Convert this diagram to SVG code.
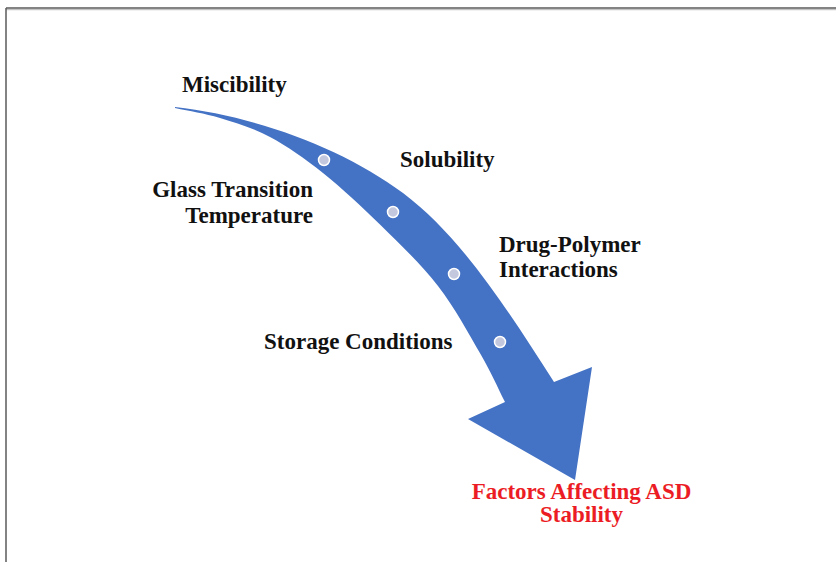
<svg xmlns="http://www.w3.org/2000/svg" width="836" height="562" viewBox="0 0 836 562">
  <style>
    .lbl { font-family: "Liberation Serif", "Times New Roman", serif; font-weight: bold; font-size: 23px; fill: #111111; }
    .goal { font-family: "Liberation Serif", "Times New Roman", serif; font-weight: bold; font-size: 23px; fill: #ec1c24; }
    .dot { fill: #c3c8de; stroke: #ffffff; stroke-width: 1.5; }
  </style>
  <rect x="0" y="0" width="836" height="562" fill="#ffffff"/>

  <!-- page frame -->
  <g id="frame" fill="none">
    <line x1="6" y1="8" x2="836" y2="8" stroke="#5a5a5a" stroke-width="1.5"/>
    <line x1="6" y1="9.7" x2="836" y2="9.7" stroke="#b5b5b5" stroke-width="1"/>
    <line x1="6" y1="8" x2="6" y2="562" stroke="#5a5a5a" stroke-width="1.5"/>
  </g>

  <!-- curved arrow with step markers -->
  <g id="arrow">
    <path fill="#4472c4" d="M175,107
      C255,116 343,148 403,193
      C460,236 504,304 554,382
      L592,367 L575,480 L468,419 L505,402
      C496.9,386 491.7,373.3 480.5,354
      C469.3,334.7 454.6,307.4 438,286
      C421.4,264.6 400.2,244.3 381,225.5
      C361.8,206.7 341.5,187.75 323,173
      C304.5,158.25 287.2,146.2 270,137
      C252.8,127.8 235.8,122.8 220,118
      C204.2,113.2 190,111.3 175,108 Z"/>
    <circle class="dot" cx="324" cy="160" r="5.5"/>
    <circle class="dot" cx="393" cy="212" r="5.5"/>
    <circle class="dot" cx="454" cy="274" r="5.5"/>
    <circle class="dot" cx="500" cy="342" r="5.5"/>
  </g>

  <g id="miscibility">
    <text class="lbl" x="182" y="92">Miscibility</text>
  </g>
  <g id="glass-transition">
    <text class="lbl" text-anchor="end" x="313" y="197">Glass Transition</text>
    <text class="lbl" text-anchor="end" x="313" y="223">Temperature</text>
  </g>
  <g id="solubility">
    <text class="lbl" x="400" y="167">Solubility</text>
  </g>
  <g id="drug-polymer">
    <text class="lbl" x="499" y="252">Drug-Polymer</text>
    <text class="lbl" x="499" y="277">Interactions</text>
  </g>
  <g id="storage">
    <text class="lbl" x="264" y="349">Storage Conditions</text>
  </g>
  <g id="asd-stability">
    <text class="goal" text-anchor="middle" x="581.5" y="499">Factors Affecting ASD</text>
    <text class="goal" text-anchor="middle" x="581.5" y="522">Stability</text>
  </g>
</svg>
